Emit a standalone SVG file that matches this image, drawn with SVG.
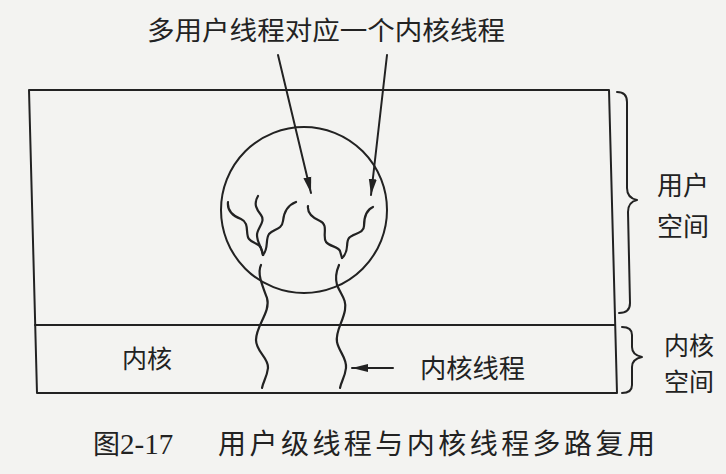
<svg xmlns="http://www.w3.org/2000/svg" width="726" height="474" viewBox="0 0 726 474">
<style>
.ln{fill:none;stroke:#222;stroke-width:2;stroke-linecap:round;stroke-linejoin:round}
.th{fill:none;stroke:#222;stroke-width:2.2;stroke-linecap:round}
.t{font-family:"Noto Sans CJK SC","Noto Sans",sans-serif;fill:#222}
.n{font-family:"Liberation Serif",serif;fill:#222}
</style>
<defs>
<marker id="ah" markerUnits="userSpaceOnUse" markerWidth="18" markerHeight="10" refX="16" refY="5" orient="auto">
<path d="M0,1 L16,5 L0,9 Z" fill="#222"/>
</marker>
</defs>
<rect width="726" height="474" fill="#f3f3f1"/>
<g id="title">
<text class="t" x="147" y="40" font-size="26" textLength="358" lengthAdjust="spacingAndGlyphs">多用户线程对应一个内核线程</text>
</g>
<g id="space-box">
<polygon class="ln" points="29,90 609,90 617,393 37,393"/>
<line class="ln" x1="35" y1="325" x2="615" y2="325"/>
</g>
<g id="process">
<circle class="ln" cx="304" cy="210" r="83"/>
</g>
<g id="user-threads">
<path class="th" d="M228,202 C227,211 233,216 241,219 C250,223 245,234 249,239 C253,244 259,243 261,248 L263,255"/>
<path class="th" d="M258,196 C253,204 257,210 261,215 C266,222 257,228 257,235 C257,243 262,247 263,255"/>
<path class="th" d="M296,202 C288,205 284,211 283,221 C282,230 273,229 269,234 C265,240 269,248 263,255"/>
<path class="th" d="M308,206 C307,214 313,218 320,221 C329,225 322,236 326,242 C330,247 338,246 340,251 L342,258"/>
<path class="th" d="M373,207 C366,210 364,217 364,226 C364,234 353,233 349,238 C345,243 350,251 342,258"/>
</g>
<g id="kernel-threads">
<path class="th" d="M261,265 C257,273 262,285 267,298 C271,312 256,325 256,340 C256,352 269,358 268,368 C267,377 263,382 262,388"/>
<path class="th" d="M339,265 C336,272 335,278 337,285 C341,295 347,300 345,310 C343,322 335,332 337,342 C339,352 347,358 346,368 C345,377 341,382 340,388"/>
</g>
<g id="connectors">
<line class="ln" x1="278" y1="55" x2="311" y2="193" marker-end="url(#ah)"/>
<line class="ln" x1="387" y1="55" x2="371" y2="195" marker-end="url(#ah)"/>
<line class="ln" x1="393" y1="368" x2="352" y2="368" marker-end="url(#ah)"/>
</g>
<g id="braces">
<path class="ln" d="M617,92 Q627,92 627,102 L627,188 Q627,198 637,200 Q628,202 628,212 L630,303 Q630,313 619,313"/>
<path class="ln" d="M622,327 Q632,327 632,335 L632,347 Q632,355 642,357 Q632,359 632,367 L632,385 Q632,393 622,393"/>
</g>
<g id="labels">
<text class="t" x="657" y="195" font-size="26">用户</text>
<text class="t" x="657" y="236" font-size="26">空间</text>
<text class="t" x="664" y="355" font-size="25">内核</text>
<text class="t" x="664" y="391" font-size="25">空间</text>
<text class="t" x="122" y="368" font-size="25">内核</text>
<text class="t" x="420" y="378" font-size="26" textLength="105" lengthAdjust="spacingAndGlyphs">内核线程</text>
</g>
<g id="caption">
<text class="t" x="93" y="454" font-size="27">图<tspan class="n" font-size="29">2-17</tspan></text>
<text class="t" x="218" y="454" font-size="28" textLength="437" lengthAdjust="spacing">用户级线程与内核线程多路复用</text>
</g>
</svg>
